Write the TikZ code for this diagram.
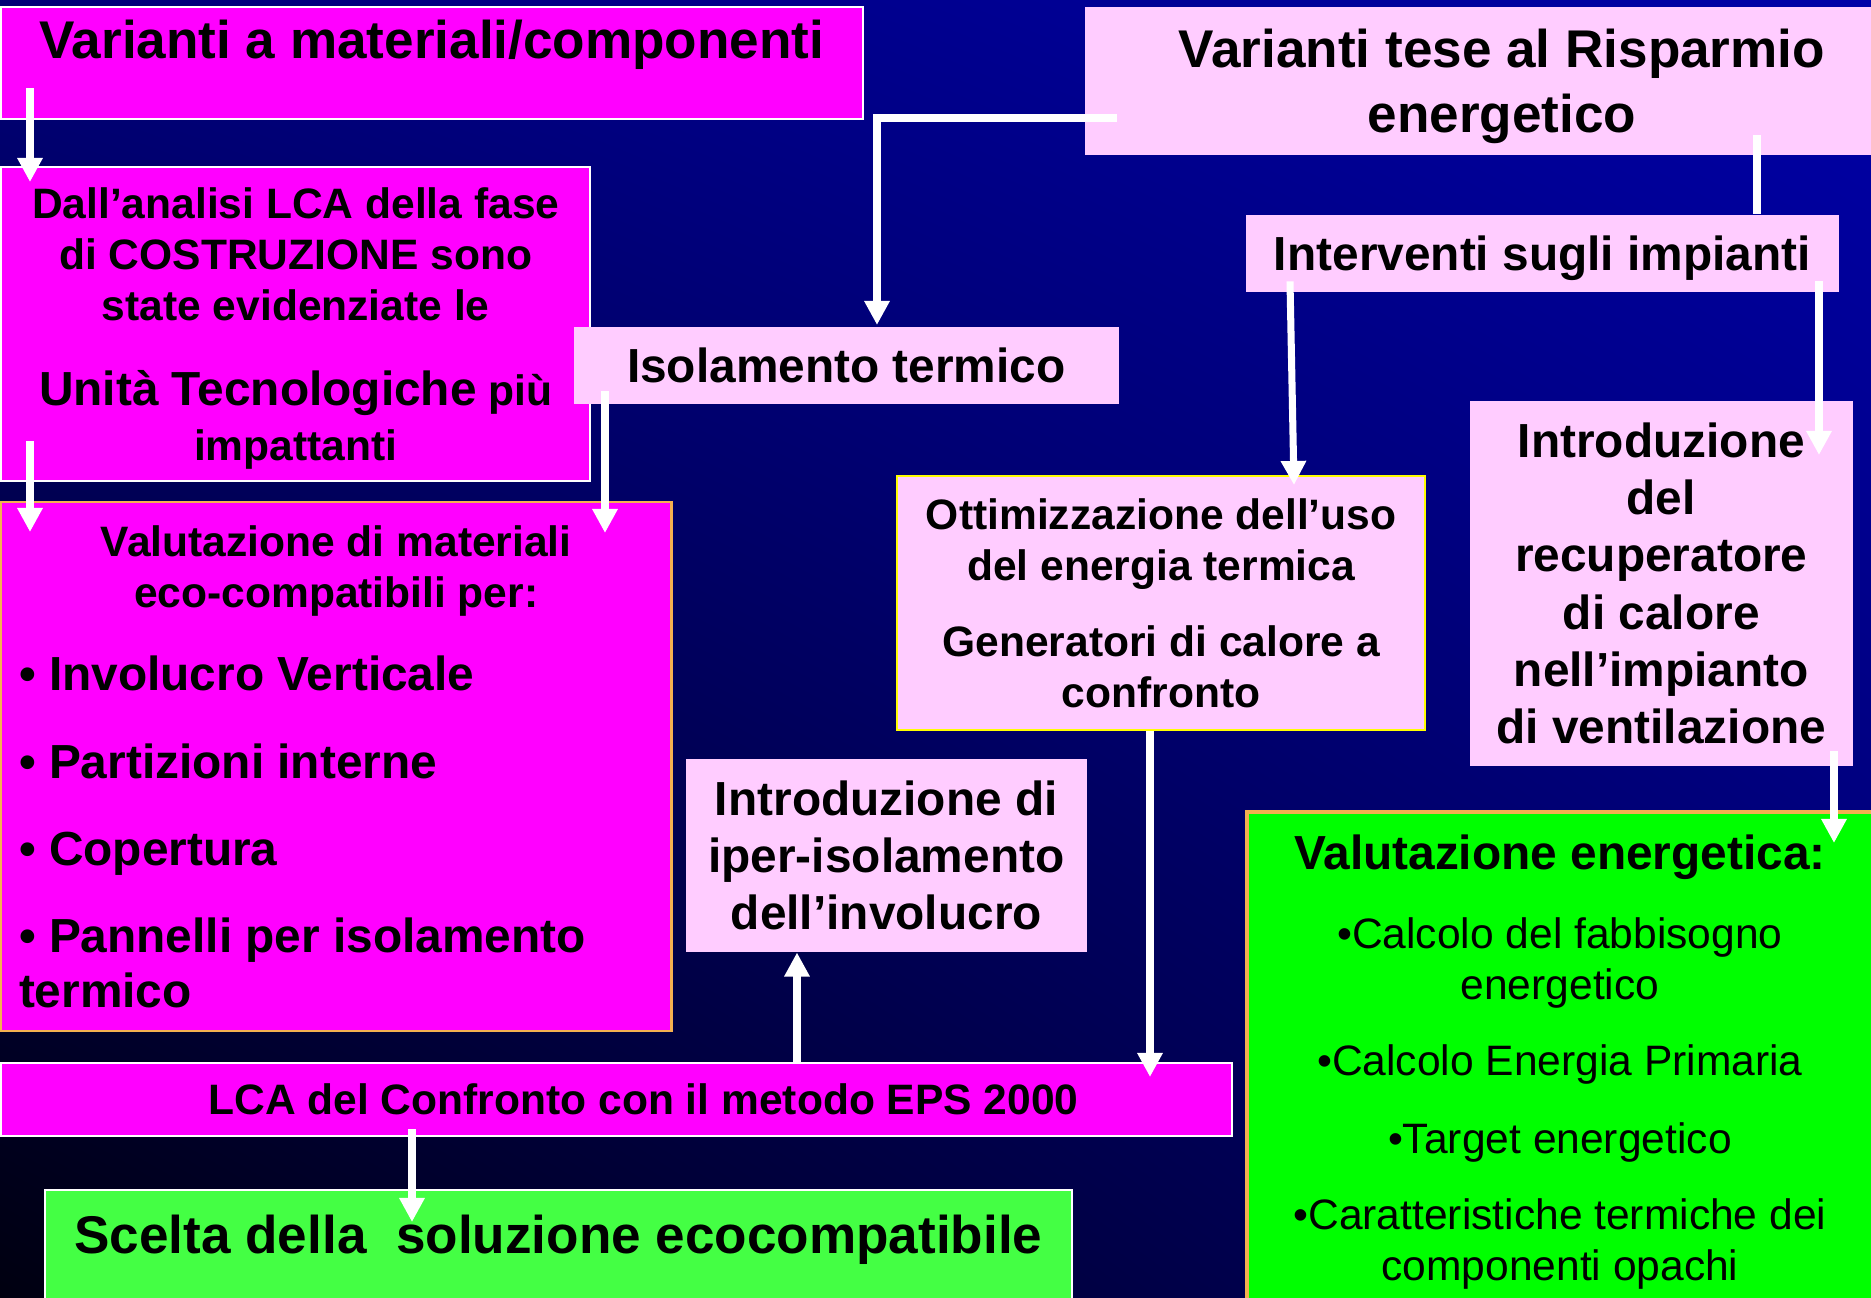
\documentclass[tikz,border=0pt]{standalone}
\usepackage{fontspec}
\setmainfont{Liberation Sans}
\usepackage{xcolor}
\usetikzlibrary{arrows.meta,calc,shadings}
\definecolor{boxmagenta}{RGB}{255, 0, 255}
\definecolor{boxpink}{RGB}{255, 204, 255}
\definecolor{choicegreen}{RGB}{68, 255, 68}
\definecolor{energygreen}{RGB}{0, 255, 0}
\definecolor{edgeorange}{RGB}{245, 176, 80}
\definecolor{edgeyellow}{RGB}{255, 255, 0}
\definecolor{bgul}{RGB}{0, 0, 120}
\definecolor{bgur}{RGB}{0, 0, 168}
\definecolor{bgll}{RGB}{0, 0, 16}
\definecolor{bglr}{RGB}{0, 0, 104}

\begin{document}
\begin{tikzpicture}[
    x=0.01cm, y=-0.01cm,
    every node/.style={align=center},
    bigfont/.style={font=\fontsize{15.1}{18.3}\selectfont\bfseries},
    midfont/.style={font=\fontsize{13.6}{16.3}\selectfont\bfseries},
    smallfont/.style={font=\fontsize{12.1}{14.5}\selectfont\bfseries},
    box/.style={rectangle, anchor=north west, inner sep=0pt},
    magentabox/.style={box, fill=boxmagenta, draw=white, line width=0.6pt},
    pinkbox/.style={box, fill=boxpink},
    flow/.style={draw=white, line width=2pt, -{Triangle[width=0.24cm, length=0.24cm]}}
]

% Background gradient
\useasboundingbox (0,0) rectangle (1871,1298);
\shade[upper left=bgul, upper right=bgur, lower left=bgll, lower right=bglr] (0,0) rectangle (1871,1298);

% Material variants (left column)
\node[magentabox, bigfont, minimum width=8.61cm, minimum height=1.12cm, text depth=0.47cm] (var_mat) at (0,6) {Varianti a materiali/componenti};
\node[magentabox, smallfont, minimum width=5.89cm, minimum height=3.14cm, text depth=0pt] (lca_costr) at (0,166) {Dall’analisi LCA della fase\\di COSTRUZIONE sono\\state evidenziate le\\[9.5pt]{\fontsize{13.6}{16.3}\selectfont Unità Tecnologiche} più\\[1.1pt]impattanti};
\node[box, fill=boxmagenta, draw=edgeorange, line width=0.6pt, midfont, align=left, minimum width=6.70cm, minimum height=5.29cm] (valmat) at (0,501) {\makebox[6.34cm]{\fontsize{12.1}{14.5}\selectfont Valutazione di materiali}\\[-1.8pt]\makebox[6.34cm]{\fontsize{12.1}{14.5}\selectfont eco-compatibili per:}\\[7.5pt]• Involucro Verticale\\[8.5pt]• Partizioni interne\\[8.5pt]• Copertura\\[8.5pt]• Pannelli per isolamento\\[-0.7pt]termico};

% Energy saving variants (right column)
\node[pinkbox, bigfont, minimum width=8.34cm, minimum height=1.48cm, text depth=0pt] (var_risp) at (1084,6) {Varianti tese al Risparmio\\energetico};
\node[pinkbox, midfont, minimum width=5.45cm, minimum height=0.77cm] (iso_term) at (573,326) {Isolamento termico};
\node[pinkbox, midfont, minimum width=5.93cm, minimum height=0.77cm, text depth=0pt] (interv_imp) at (1245,214) {Interventi sugli impianti};
\node[pinkbox, midfont, minimum width=3.83cm, minimum height=3.65cm] (recup) at (1469,400) {Introduzione\\del\\recuperatore\\di calore\\nell’impianto\\di ventilazione};
\node[pinkbox, smallfont, draw=edgeyellow, line width=0.6pt, minimum width=5.28cm, minimum height=2.54cm] (ottim) at (896,475) {Ottimizzazione dell’uso\\del energia termica\\[7.1pt]Generatori di calore a\\confronto};
\node[pinkbox, midfont, minimum width=4.01cm, minimum height=1.93cm] (iper_iso) at (685,758) {Introduzione di\\iper-isolamento\\dell’involucro};
\node[box, fill=energygreen, draw=edgeorange, line width=1pt, font=\fontsize{12.1}{14.5}\selectfont, minimum width=6.26cm, minimum height=5.00cm] (val_energ) at (1245,810) {{\fontsize{13.6}{16.3}\selectfont\bfseries Valutazione energetica:}\\[8pt]•Calcolo del fabbisogno\\energetico\\[7.1pt]•Calcolo Energia Primaria\\[7.5pt]•Target energetico\\[7.1pt]•Caratteristiche termiche dei\\componenti opachi};

% Comparison and choice
\node[magentabox, smallfont, minimum width=12.30cm, minimum height=0.73cm] (lca_eps) at (0,1062) {\hspace*{0.54cm}LCA del Confronto con il metodo EPS 2000};
\node[box, fill=choicegreen, draw=white, line width=0.6pt, bigfont, minimum width=10.26cm, minimum height=1.30cm, text depth=0.41cm] (scelta) at (44,1189) {Scelta della\ \ soluzione ecocompatibile};

% Arrows
\draw[flow] ($(var_mat.south west)+(30,-32)$) -- ($(lca_costr.north west)+(30,16)$);
\draw[flow] ($(lca_costr.south west)+(30,-41)$) -- ($(valmat.north west)+(30,31)$);
\draw[flow] ($(iso_term.south west)+(32,-13)$) -- ($(valmat.north west)+(605,32)$);
\draw[flow] ($(var_risp.north west)+(33,112)$) -| ($(iso_term.north west)+(304,-1)$);
\draw[white, line width=2pt] ($(var_risp.south west)+(673,-20)$) -- ($(interv_imp.north west)+(512,0)$);
\draw[flow] ($(interv_imp.south west)+(45,-11)$) -- ($(ottim.north west)+(398,10)$);
\draw[flow] ($(interv_imp.south west)+(574,-11)$) -- ($(recup.north west)+(350,55)$);
\draw[flow] ($(recup.south west)+(365,-16)$) -- ($(val_energ.north west)+(589,33)$);
\draw[flow] ($(ottim.south west)+(254,0)$) -- ($(lca_eps.north west)+(1150,15)$);
\draw[flow] ($(lca_eps.north west)+(797,0)$) -- ($(iper_iso.south west)+(112,0)$);
\draw[flow] ($(lca_eps.south west)+(412,-8)$) -- ($(scelta.north west)+(368,33)$);

\end{tikzpicture}
\end{document}
